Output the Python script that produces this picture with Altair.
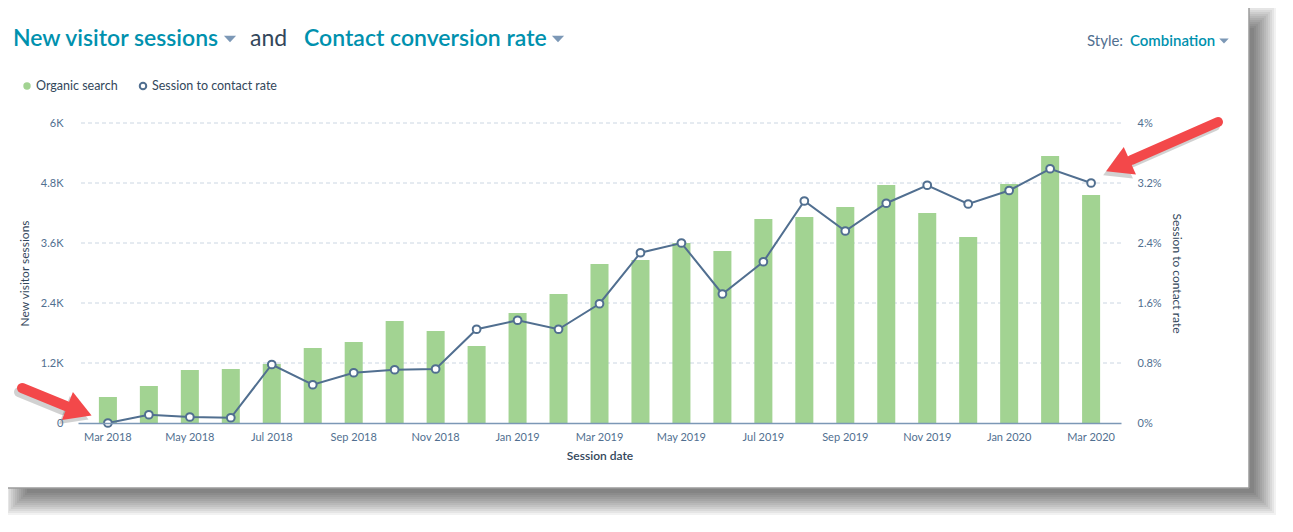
import altair as alt
import pandas as pd

months = ["Mar 2018", "Apr 2018", "May 2018", "Jun 2018", "Jul 2018", "Aug 2018",
          "Sep 2018", "Oct 2018", "Nov 2018", "Dec 2018", "Jan 2019", "Feb 2019",
          "Mar 2019", "Apr 2019", "May 2019", "Jun 2019", "Jul 2019", "Aug 2019",
          "Sep 2019", "Oct 2019", "Nov 2019", "Dec 2019", "Jan 2020", "Feb 2020",
          "Mar 2020"]
sessions = [520, 740, 1060, 1080, 1180, 1500, 1620, 2040, 1840, 1540, 2200, 2580,
            3180, 3260, 3600, 3440, 4080, 4120, 4320, 4760, 4200, 3720, 4780, 5340,
            4560]
rates = [0.0, 0.11, 0.08, 0.07, 0.78, 0.51, 0.67, 0.71, 0.72, 1.25, 1.37, 1.25,
         1.59, 2.27, 2.40, 1.72, 2.15, 2.96, 2.56, 2.93, 3.17, 2.92, 3.10, 3.39,
         3.20]
left_ticks = [0, 1200, 2400, 3600, 4800, 6000]
right_ticks = [0, 0.8, 1.6, 2.4, 3.2, 4.0]
x_labels = months[::2]

FONT = "Lato"
TEAL = "#0091ae"
DARK = "#33475b"
SLATE = "#516f90"
TRI = "#7c98b6"
GREEN = "#a2d392"
RED = "#f3484a"

df = pd.DataFrame({"month": months, "sessions": sessions, "rate": rates})
grid_df = pd.DataFrame({"v": left_ticks[1:]})
one = pd.DataFrame({"k": [0]})

W, H = 1043, 300

x_enc = alt.X("month:N", sort=months,
              scale=alt.Scale(paddingInner=0.56, paddingOuter=0.51),
              axis=alt.Axis(values=x_labels, title="Session date", labelAngle=0,
                            ticks=False, domain=True, domainColor="#7c98b6",
                            domainWidth=1.5, labelPadding=8, titlePadding=8,
                            labelFontSize=11, titleFontSize=12,
                            titleFontWeight=600, grid=False, zindex=1))


def box(x, x2, y, y2, **kw):
    return alt.Chart(one).mark_rect(**kw).encode(
        x=alt.value(x), x2=alt.value(x2), y=alt.value(y), y2=alt.value(y2))


def edge(x, x2, y, y2):
    return alt.Chart(one).mark_rule(color="#9b9b9b", strokeWidth=1.5).encode(
        x=alt.value(x), x2=alt.value(x2), y=alt.value(y), y2=alt.value(y2))


def vtext(txt, x, y, size, color, weight="normal"):
    return alt.Chart(one).mark_text(
        text=txt, fontSize=size, color=color, fontWeight=weight, align="left",
        baseline="middle", font=FONT).encode(x=alt.value(x), y=alt.value(y))


def tri(x, y, size, color):
    return alt.Chart(one).mark_point(
        shape="M-1,-0.55L1,-0.55L0,0.55Z", filled=True, color=color, size=size,
        opacity=1).encode(x=alt.value(x), y=alt.value(y))


layers = []
# shadow of the frame (only outside the frame)
fx0, fx1, fy0, fy1 = -78, 1171, -122, 365
d = 16
for e in range(-11, 12, 2):
    if d + e > 0:
        layers.append(box(fx1, fx1 + d + e, fy0 + d - e, fy1 + d + e,
                          color="black", opacity=0.05))
        layers.append(box(fx0 + d - e, fx1, fy1, fy1 + d + e,
                          color="black", opacity=0.05))
# frame edges
layers += [edge(fx0, fx1, fy0, fy0), edge(fx0, fx1, fy1, fy1),
           edge(fx0, fx0, fy0, fy1), edge(fx1, fx1, fy0, fy1)]

# gridlines
grid = alt.Chart(grid_df).mark_rule(color="#cbd6e2", strokeDash=[4, 3],
                                    strokeWidth=1).encode(
    y=alt.Y("v:Q", scale=alt.Scale(domain=[0, 6000], nice=False), axis=None))
layers.append(grid)

bars = alt.Chart(df).mark_bar(color=GREEN).encode(
    x=x_enc,
    y=alt.Y("sessions:Q", scale=alt.Scale(domain=[0, 6000], nice=False),
            axis=alt.Axis(orient="left", values=left_ticks,
                          labelExpr="datum.value == 0 ? '0' : format(datum.value/1000, '.1~f') + 'K'",
                          title="New visitor sessions", grid=False, domain=False,
                          ticks=False, labelPadding=15, titlePadding=9,
                          labelFontSize=11, titleFontSize=12,
                          titleFontWeight="normal", zindex=1)))
layers.append(bars)

line = alt.Chart(df).mark_line(
    color=SLATE, strokeWidth=2,
    point=alt.OverlayMarkDef(filled=True, fill="white", stroke=SLATE,
                             strokeWidth=2, size=60, opacity=1)).encode(
    x=alt.X("month:N", sort=months),
    y=alt.Y("rate:Q", scale=alt.Scale(domain=[0, 4], nice=False),
            axis=alt.Axis(orient="right", values=right_ticks,
                          labelExpr="format(datum.value, '.1~f') + '%'",
                          title="Session to contact rate", grid=False,
                          domain=False, ticks=False, labelPadding=16,
                          titlePadding=8, labelFontSize=11, titleFontSize=12,
                          titleFontWeight="normal", zindex=1)))
layers.append(line)

# header texts
layers += [
    vtext("New visitor sessions", -65, -84, 23, TEAL, 600),
    tri(152, -84, 150, TRI),
    vtext("and", 172, -84, 23, DARK),
    vtext("Contact conversion rate", 226, -84, 23, TEAL, 600),
    tri(480, -84, 150, TRI),
    vtext("Style:", 1009, -82, 15, SLATE),
    vtext("Combination", 1052, -82, 15, TEAL, 600),
    tri(1146, -82, 90, TRI),
]
# legend
layers += [
    alt.Chart(one).mark_point(shape="circle", filled=True, color=GREEN, size=55,
                              opacity=1).encode(x=alt.value(-51), y=alt.value(-37)),
    vtext("Organic search", -42, -37, 12.5, DARK),
    alt.Chart(one).mark_point(shape="circle", filled=True, fill="white",
                              stroke=SLATE, strokeWidth=2, size=42,
                              opacity=1).encode(x=alt.value(65), y=alt.value(-37)),
    vtext("Session to contact rate", 74, -37, 12.5, DARK),
]


def arrow(tx, ty, bx, by, hx, hy, ang):
    out = []
    for dx, dy, col, op in [(-3, 4, "black", 0.18), (0, 0, RED, 1)]:
        out.append(alt.Chart(one).mark_rule(
            color=col, opacity=op, strokeWidth=10, strokeCap="round").encode(
            x=alt.value(tx + dx), x2=alt.value(bx + dx),
            y=alt.value(ty + dy), y2=alt.value(by + dy)))
        out.append(alt.Chart(one).mark_point(
            shape="triangle-up", filled=True, color=col, opacity=op, size=900,
            angle=ang).encode(x=alt.value(hx + dx), y=alt.value(hy + dy)))
    return out


layers += arrow(-56, 265, -12, 283, 1.5, 287.7, 111.5)
layers += arrow(1140, -1, 1053.5, 37, 1040, 43, 246)

chart = alt.layer(*layers).resolve_scale(y="independent").properties(
    width=W, height=H,
    autosize=alt.AutoSizeParams(type="none"),
    padding={"left": 70, "top": 115, "right": 160, "bottom": 95},
).configure_view(stroke=None).configure_axis(
    labelFont=FONT, titleFont=FONT, labelColor=SLATE, titleColor=DARK
)

chart.save("out.html", embed_options={"renderer": "svg", "actions": False})
